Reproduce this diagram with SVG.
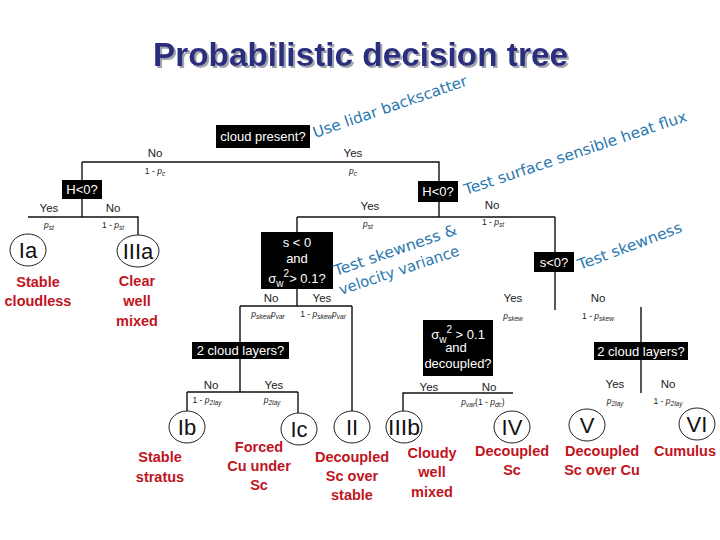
<svg xmlns="http://www.w3.org/2000/svg" width="720" height="540" viewBox="0 0 720 540">
<defs>
<filter id="shadow" x="-5%" y="-20%" width="110%" height="150%">
<feDropShadow dx="2" dy="2" stdDeviation="0.6" flood-color="#9a9aa6" flood-opacity="0.9"/>
</filter>
</defs>
<style>
.title{font-family:"Liberation Sans",Arial,sans-serif;font-weight:bold;font-size:33px}
.box{fill:#000}
.bt{font-family:"Liberation Sans",Arial,sans-serif;font-size:13px;fill:#fff;text-anchor:middle}
.yn{font-family:"Liberation Sans",Arial,sans-serif;font-size:11.5px;fill:#222;text-anchor:middle}
.p{font-family:"Liberation Sans",Arial,sans-serif;font-size:8.5px;fill:#222;text-anchor:middle}
.pi{font-style:italic}
.s{font-size:6.5px;font-style:italic}
.ln{stroke:#111;stroke-width:1.4;fill:none}
.c{fill:#fff;stroke:#222;stroke-width:1}
.cl{font-family:"Liberation Sans",Arial,sans-serif;font-size:22px;fill:#111;text-anchor:middle}
.red{font-family:"Liberation Sans",Arial,sans-serif;font-weight:bold;font-size:14.5px;fill:#c0141e;text-anchor:middle}
.blue{font-family:"DejaVu Sans",sans-serif;font-size:15px;fill:#2a78b0}
</style>
<rect width="720" height="540" fill="#fff"/>
<g id="title">
<text class="title" x="153" y="66" fill="#2b2e7e" filter="url(#shadow)" textLength="415" lengthAdjust="spacingAndGlyphs">Probabilistic decision tree</text>
</g>
<g id="connectors">
<path class="ln" d="M82 162H439V181M82 162V180M82 199V217M28 217H138V236"/>
<path class="ln" d="M439 202V217M297 217H555M297 217V232M555 217V252M555 272V310"/>
<path class="ln" d="M297 289V306M240 306H352M240 306V342M240 359V392M187 392H298M187 392V411M298 392V413M352 306V411"/>
<path class="ln" d="M641 307V342M641 360V393"/>
<path class="ln" d="M513 393H403V411"/>
</g>
<g id="branch-labels">
<text class="yn" x="155" y="157">No</text>
<text class="p" x="155" y="174">1 - <tspan class="pi">p</tspan><tspan class="s" dy="1.5">c</tspan></text>
<text class="yn" x="353" y="157">Yes</text>
<text class="p" x="353" y="174"><tspan class="pi">p</tspan><tspan class="s" dy="1.5">c</tspan></text>
<text class="yn" x="49" y="212">Yes</text>
<text class="yn" x="113" y="212">No</text>
<text class="p" x="49" y="228"><tspan class="pi">p</tspan><tspan class="s" dy="1.5">st</tspan></text>
<text class="p" x="113" y="228">1 - <tspan class="pi">p</tspan><tspan class="s" dy="1.5">st</tspan></text>
<text class="yn" x="370" y="210">Yes</text>
<text class="yn" x="492" y="209">No</text>
<text class="p" x="368" y="227"><tspan class="pi">p</tspan><tspan class="s" dy="1.5">st</tspan></text>
<text class="p" x="493" y="225">1 - <tspan class="pi">p</tspan><tspan class="s" dy="1.5">st</tspan></text>
<text class="yn" x="271" y="302">No</text>
<text class="yn" x="322" y="302">Yes</text>
<text class="p" x="268" y="317"><tspan class="pi">p</tspan><tspan class="s" dy="1.5">skew</tspan><tspan class="pi" dy="-1.5">p</tspan><tspan class="s" dy="1.5">var</tspan></text>
<text class="p" x="323" y="317">1 - <tspan class="pi">p</tspan><tspan class="s" dy="1.5">skew</tspan><tspan class="pi" dy="-1.5">p</tspan><tspan class="s" dy="1.5">var</tspan></text>
<text class="yn" x="211" y="389">No</text>
<text class="yn" x="274" y="389">Yes</text>
<text class="p" x="207" y="403">1 - <tspan class="pi">p</tspan><tspan class="s" dy="1.5">2lay</tspan></text>
<text class="p" x="272" y="403"><tspan class="pi">p</tspan><tspan class="s" dy="1.5">2lay</tspan></text>
<text class="yn" x="513" y="302">Yes</text>
<text class="yn" x="598" y="302">No</text>
<text class="p" x="513" y="319"><tspan class="pi">p</tspan><tspan class="s" dy="1.5">skew</tspan></text>
<text class="p" x="598" y="319">1 - <tspan class="pi">p</tspan><tspan class="s" dy="1.5">skew</tspan></text>
<text class="yn" x="429" y="391">Yes</text>
<text class="yn" x="489" y="391">No</text>
<text class="p" x="483" y="405"><tspan class="pi">p</tspan><tspan class="s" dy="1.5">var</tspan><tspan dy="-1.5">(1 - </tspan><tspan class="pi">p</tspan><tspan class="s" dy="1.5">dc</tspan><tspan dy="-1.5">)</tspan></text>
<text class="yn" x="615" y="388">Yes</text>
<text class="yn" x="668" y="388">No</text>
<text class="p" x="615" y="404"><tspan class="pi">p</tspan><tspan class="s" dy="1.5">2lay</tspan></text>
<text class="p" x="668" y="404">1 - <tspan class="pi">p</tspan><tspan class="s" dy="1.5">2lay</tspan></text>
</g>
<g id="q-cloud"><rect class="box" x="216" y="125" width="94" height="23"/><text class="bt" x="263" y="141">cloud present?</text></g>
<g id="q-h-left"><rect class="box" x="62" y="180" width="40" height="19"/><text class="bt" x="82" y="194">H&lt;0?</text></g>
<g id="q-h-mid"><rect class="box" x="418" y="181" width="40" height="21"/><text class="bt" x="438" y="196">H&lt;0?</text></g>
<g id="q-skew-var"><rect class="box" x="261" y="232" width="72" height="57"/>
<text class="bt" x="297" y="247">s &lt; 0</text>
<text class="bt" x="297" y="263">and</text>
<text class="bt" x="297" y="283">σ<tspan dy="4" font-size="10">w</tspan><tspan dy="-10" font-size="10">2</tspan><tspan dy="6">&gt; 0.1?</tspan></text></g>
<g id="q-skew"><rect class="box" x="534" y="252" width="40" height="20"/><text class="bt" x="554" y="267">s&lt;0?</text></g>
<g id="q-2lay-left"><rect class="box" x="192" y="342" width="97" height="17"/><text class="bt" x="240.5" y="355">2 cloud layers?</text></g>
<g id="q-var-dc"><rect class="box" x="423" y="320" width="70" height="56"/>
<text class="bt" x="458" y="339">σ<tspan dy="4" font-size="10">w</tspan><tspan dy="-10" font-size="10">2</tspan><tspan dy="6"> &gt; 0.1</tspan></text>
<text class="bt" x="456" y="352">and</text>
<text class="bt" x="458" y="368">decoupled?</text></g>
<g id="q-2lay-right"><rect class="box" x="594" y="342" width="94" height="18"/><text class="bt" x="641" y="356">2 cloud layers?</text></g>
<g id="n-Ia"><ellipse class="c" cx="28" cy="250" rx="18" ry="16"/><text class="cl" x="28" y="258">Ia</text>
<text class="red" x="38" y="287">Stable</text><text class="red" x="38" y="306">cloudless</text></g>
<g id="n-IIIa"><ellipse class="c" cx="138" cy="251" rx="21" ry="16"/><text class="cl" x="138" y="259">IIIa</text>
<text class="red" x="137" y="286">Clear</text><text class="red" x="137" y="306">well</text><text class="red" x="137" y="326">mixed</text></g>
<g id="n-Ib"><ellipse class="c" cx="187" cy="427" rx="18" ry="16"/><text class="cl" x="187" y="435">Ib</text>
<text class="red" x="160" y="462">Stable</text><text class="red" x="160" y="482">stratus</text></g>
<g id="n-Ic"><ellipse class="c" cx="299" cy="429" rx="18" ry="16"/><text class="cl" x="299" y="437">Ic</text>
<text class="red" x="259" y="452">Forced</text><text class="red" x="259" y="471">Cu under</text><text class="red" x="259" y="490">Sc</text></g>
<g id="n-II"><ellipse class="c" cx="352" cy="427" rx="18" ry="16"/><text class="cl" x="352" y="435">II</text>
<text class="red" x="352" y="462">Decoupled</text><text class="red" x="352" y="481">Sc over</text><text class="red" x="352" y="500">stable</text></g>
<g id="n-IIIb"><ellipse class="c" cx="404" cy="427" rx="18" ry="16"/><text class="cl" x="404" y="435" textLength="32" lengthAdjust="spacingAndGlyphs">IIIb</text>
<text class="red" x="432" y="458">Cloudy</text><text class="red" x="432" y="477">well</text><text class="red" x="432" y="497">mixed</text></g>
<g id="n-IV"><ellipse class="c" cx="512" cy="427" rx="18" ry="16"/><text class="cl" x="512" y="435">IV</text>
<text class="red" x="512" y="456">Decoupled</text><text class="red" x="512" y="475">Sc</text></g>
<g id="n-V"><ellipse class="c" cx="587" cy="425" rx="18" ry="16"/><text class="cl" x="587" y="433">V</text>
<text class="red" x="602" y="456">Decoupled</text><text class="red" x="602" y="475">Sc over Cu</text></g>
<g id="n-VI"><ellipse class="c" cx="697" cy="424" rx="18" ry="16"/><text class="cl" x="697" y="432">VI</text>
<text class="red" x="685" y="456">Cumulus</text></g>
<g id="notes">
<text class="blue" transform="translate(315 138) rotate(-19)" textLength="162" lengthAdjust="spacingAndGlyphs">Use lidar backscatter</text>
<text class="blue" transform="translate(466 195) rotate(-18.5)" textLength="234" lengthAdjust="spacingAndGlyphs">Test surface sensible heat flux</text>
<text class="blue" transform="translate(336 276) rotate(-19)" textLength="129" lengthAdjust="spacingAndGlyphs">Test skewness &amp;</text>
<text class="blue" transform="translate(341 295) rotate(-18.5)" textLength="126" lengthAdjust="spacingAndGlyphs">velocity variance</text>
<text class="blue" transform="translate(580 270) rotate(-20.5)" textLength="110" lengthAdjust="spacingAndGlyphs">Test skewness</text>
</g>
</svg>
